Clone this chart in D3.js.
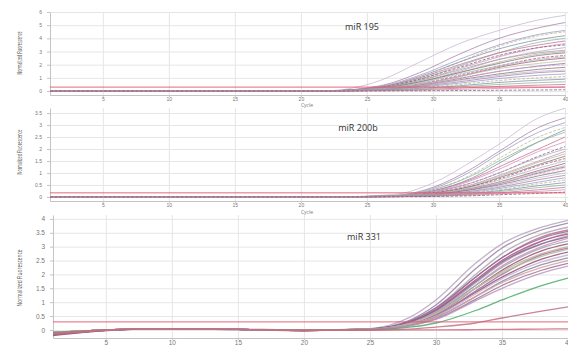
<!DOCTYPE html>
<html>
<head>
<meta charset="utf-8">
<script src="https://cdn.jsdelivr.net/npm/d3@7"></script>
<style>
  body { margin: 0; background: #fff; }
  svg { display: block; font-family: "Open Sans", "DejaVu Sans", sans-serif; }
  .grid line { stroke: #e6e6e6; stroke-width: 1; }
  .axis path, .axis line { stroke: #c4c4c4; }
  .axis text { fill: #777; }
</style>
</head>
<body>
<div id="chart"></div>
<script>
const cycles195 = [1, 12, 22, 26, 29, 32, 35, 38, 40]
const cycles200b = [1, 12, 22, 27, 30, 33, 35, 38, 40]
const cycles331 = [1, 5, 9, 15, 20, 25, 28, 30, 33, 35, 38, 40]

const miR195 = [
  [0, 0, 0.03, 0.8, 2.2, 3.6, 4.6, 5.4, 5.75],
  [0, 0, 0.02, 0.4, 1.4, 2.8, 4.0, 4.8, 5.2],
  [0, 0, 0.02, 0.35, 1.2, 2.4, 3.5, 4.3, 4.6],
  [0, 0, 0.01, 0.3, 1.0, 2.2, 3.4, 4.2, 4.5],
  [0, 0, 0.02, 0.3, 1.1, 2.2, 3.2, 3.9, 4.2],
  [0, 0, 0.01, 0.25, 0.9, 1.9, 2.9, 3.7, 4.0],
  [0, 0, 0.02, 0.3, 1.0, 2.0, 2.9, 3.5, 3.8],
  [0, 0, 0.01, 0.2, 0.8, 1.7, 2.6, 3.3, 3.6],
  [0, 0, 0.02, 0.25, 0.9, 1.8, 2.7, 3.3, 3.5],
  [0, 0, 0.01, 0.2, 0.7, 1.5, 2.4, 3.0, 3.3],
  [0, 0, 0.02, 0.25, 0.8, 1.6, 2.4, 2.9, 3.1],
  [0, 0, 0.01, 0.18, 0.65, 1.4, 2.2, 2.8, 3.0],
  [0, 0, 0.02, 0.2, 0.7, 1.4, 2.1, 2.7, 2.9],
  [0, 0, 0.01, 0.15, 0.55, 1.2, 1.9, 2.5, 2.7],
  [0, 0, 0.02, 0.2, 0.6, 1.3, 1.9, 2.4, 2.6],
  [0, 0, 0.01, 0.15, 0.5, 1.1, 1.8, 2.3, 2.5],
  [0, 0, 0.01, 0.15, 0.5, 1.1, 1.7, 2.1, 2.3],
  [0, 0, 0.01, 0.12, 0.45, 0.95, 1.5, 1.9, 2.1],
  [0, 0, 0.01, 0.15, 0.5, 1.0, 1.5, 1.85, 2.0],
  [0, 0, 0.01, 0.1, 0.4, 0.85, 1.3, 1.65, 1.8],
  [0, 0, 0.01, 0.12, 0.4, 0.8, 1.2, 1.5, 1.6],
  [0, 0, 0.01, 0.1, 0.35, 0.7, 1.1, 1.4, 1.5],
  [0, 0, 0.01, 0.08, 0.3, 0.6, 0.95, 1.2, 1.3],
  [0, 0, 0.01, 0.08, 0.25, 0.5, 0.8, 1.0, 1.1],
  [0, 0, 0.01, 0.06, 0.2, 0.4, 0.65, 0.82, 0.9],
  [0, 0, 0.01, 0.05, 0.15, 0.32, 0.5, 0.64, 0.7],
  [0, 0, 0.01, 0.04, 0.1, 0.22, 0.35, 0.45, 0.5],
  [0, 0, 0, 0.02, 0.06, 0.13, 0.2, 0.27, 0.3],
  [0, 0, 0, 0.01, 0.02, 0.04, 0.06, 0.08, 0.1]
]

const miR200b = [
  [0, 0, 0, 0.1, 0.58, 1.5, 2.2, 3.3, 3.7],
  [0, 0, 0, 0.06, 0.4, 1.2, 1.9, 2.9, 3.3],
  [0, 0, 0, 0.05, 0.35, 1.1, 1.8, 2.7, 3.1],
  [0, 0, 0, 0.05, 0.3, 0.95, 1.6, 2.5, 2.9],
  [0, 0, 0, 0.04, 0.25, 0.8, 1.4, 2.3, 2.8],
  [0, 0, 0, 0.05, 0.3, 0.9, 1.5, 2.3, 2.7],
  [0, 0, 0, 0.04, 0.25, 0.75, 1.25, 2.0, 2.5],
  [0, 0, 0, 0.04, 0.22, 0.7, 1.15, 1.9, 2.3],
  [0, 0, 0, 0.03, 0.2, 0.6, 1.0, 1.7, 2.1],
  [0, 0, 0, 0.04, 0.22, 0.6, 1.0, 1.65, 2.0],
  [0, 0, 0, 0.03, 0.18, 0.52, 0.9, 1.5, 1.9],
  [0, 0, 0, 0.03, 0.17, 0.5, 0.85, 1.45, 1.8],
  [0, 0, 0, 0.03, 0.15, 0.45, 0.8, 1.35, 1.7],
  [0, 0, 0, 0.03, 0.16, 0.45, 0.75, 1.3, 1.6],
  [0, 0, 0, 0.03, 0.14, 0.4, 0.7, 1.2, 1.5],
  [0, 0, 0, 0.02, 0.12, 0.36, 0.62, 1.1, 1.4],
  [0, 0, 0, 0.03, 0.13, 0.35, 0.6, 1.05, 1.3],
  [0, 0, 0, 0.02, 0.1, 0.32, 0.55, 1.0, 1.25],
  [0, 0, 0, 0.02, 0.12, 0.33, 0.55, 0.95, 1.2],
  [0, 0, 0, 0.02, 0.1, 0.3, 0.5, 0.88, 1.1],
  [0, 0, 0, 0.02, 0.09, 0.26, 0.45, 0.8, 1.0],
  [0, 0, 0, 0.02, 0.08, 0.24, 0.4, 0.72, 0.9],
  [0, 0, 0, 0.02, 0.08, 0.2, 0.35, 0.62, 0.8],
  [0, 0, 0, 0.01, 0.06, 0.18, 0.3, 0.55, 0.7],
  [0, 0, 0, 0.01, 0.05, 0.15, 0.26, 0.47, 0.6],
  [0, 0, 0, 0.01, 0.05, 0.13, 0.22, 0.39, 0.5],
  [0, 0, 0, 0.01, 0.04, 0.1, 0.17, 0.3, 0.4],
  [0, 0, 0, 0.01, 0.03, 0.08, 0.13, 0.23, 0.3],
  [0, 0, 0, 0.01, 0.02, 0.05, 0.09, 0.15, 0.2]
]

const miR331 = [
  [-0.1, 0, 0.05, 0.02, -0.01, 0.05, 0.45, 1.08, 2.4, 3.1, 3.7, 3.95],
  [-0.12, 0, 0.05, 0.02, -0.01, 0.04, 0.35, 0.9, 2.2, 2.95, 3.6, 3.85],
  [-0.1, 0, 0.05, 0.02, -0.02, 0.03, 0.3, 0.8, 2.0, 2.75, 3.45, 3.7],
  [-0.15, -0.01, 0.04, 0.02, -0.02, 0.03, 0.28, 0.75, 1.9, 2.6, 3.35, 3.6],
  [-0.1, 0, 0.05, 0.02, -0.01, 0.04, 0.32, 0.8, 1.9, 2.6, 3.3, 3.55],
  [-0.18, -0.02, 0.04, 0.01, -0.02, 0.02, 0.25, 0.65, 1.7, 2.4, 3.2, 3.5],
  [-0.1, 0, 0.05, 0.02, -0.01, 0.03, 0.28, 0.72, 1.8, 2.5, 3.2, 3.45],
  [-0.12, 0, 0.05, 0.02, -0.01, 0.03, 0.25, 0.65, 1.7, 2.4, 3.1, 3.4],
  [-0.08, 0, 0.05, 0.03, 0, 0.03, 0.27, 0.7, 1.75, 2.45, 3.1, 3.35],
  [-0.15, -0.01, 0.04, 0.02, -0.02, 0.02, 0.22, 0.6, 1.6, 2.3, 3.0, 3.3],
  [-0.1, 0, 0.05, 0.02, -0.01, 0.03, 0.24, 0.62, 1.6, 2.25, 2.95, 3.2],
  [-0.2, -0.02, 0.04, 0.01, -0.02, 0.02, 0.2, 0.55, 1.5, 2.15, 2.85, 3.1],
  [-0.1, 0, 0.05, 0.02, -0.01, 0.03, 0.22, 0.58, 1.5, 2.1, 2.75, 3.0],
  [-0.12, 0, 0.05, 0.02, -0.01, 0.02, 0.2, 0.52, 1.4, 2.0, 2.7, 2.95],
  [-0.1, 0, 0.05, 0.02, -0.01, 0.03, 0.23, 0.6, 1.5, 2.05, 2.65, 2.9],
  [-0.15, -0.01, 0.04, 0.02, -0.02, 0.02, 0.18, 0.5, 1.35, 1.9, 2.55, 2.8],
  [-0.1, 0, 0.05, 0.02, -0.01, 0.02, 0.2, 0.5, 1.3, 1.85, 2.45, 2.7],
  [-0.12, 0, 0.05, 0.02, -0.01, 0.02, 0.17, 0.45, 1.2, 1.75, 2.35, 2.6],
  [-0.1, 0, 0.05, 0.02, -0.01, 0.02, 0.18, 0.45, 1.2, 1.7, 2.25, 2.5],
  [-0.15, -0.01, 0.04, 0.02, -0.02, 0.02, 0.15, 0.4, 1.1, 1.6, 2.15, 2.4],
  [-0.1, 0, 0.05, 0.02, -0.01, 0.02, 0.15, 0.38, 1.05, 1.5, 2.05, 2.3],
  [-0.1, 0, 0.05, 0.02, -0.01, 0.01, 0.1, 0.25, 0.7, 1.08, 1.6, 1.87],
  [-0.12, 0, 0.05, 0.02, -0.01, 0, 0.03, 0.1, 0.25, 0.43, 0.68, 0.83],
  [-0.15, -0.01, 0.04, 0.02, -0.02, -0.01, 0, 0, 0.01, 0.02, 0.03, 0.04]
]

const xTicks = [5, 10, 15, 20, 25, 30, 35, 40]
const yTicks195 = [0, 1, 2, 3, 4, 5, 6]
const yTicks200b = [0, 0.5, 1, 1.5, 2, 2.5, 3, 3.5]
const yTicks331 = [0, 0.5, 1, 1.5, 2, 2.5, 3, 3.5, 4]
const thresholds = [0.3, 0.17, 0.29]

const palette = ['#c9b6cf', '#a77fa6', '#9a9ac8', '#b9b48a', '#7d8fa8', '#8fb59a',
  '#c96d95', '#d58fb0', '#7b5b7e', '#b5a1c9', '#a3a3a3', '#d6a6a6', '#6f7f6a',
  '#c2407a', '#9cc0c8', '#a5566b', '#bfbfa0', '#8a6fb0', '#e0a3c0', '#777777']
const palette331 = ['#b7a4bd', '#9a7fa8', '#a8a8a8', '#c46a8e', '#8e6a9e', '#a0b0c8',
  '#b84d79', '#c8a0b8', '#7a6a90', '#d090b0', '#9f9fb8', '#8e4f6f', '#c0b090',
  '#a86aa8', '#b0c0a0', '#905070', '#c8b0d0', '#8a8aa0', '#d4a0a8', '#a07090',
  '#b898c0', '#4caa6a', '#c07080', '#d06a80']

const W = 568, H = 351

const panels = [
  { name: 'miR 195', cycles: cycles195, curves: miR195, colors: palette, yTicks: yTicks195,
    yDomain: [-0.3, 6], yRange: [95, 12], xRange: [50, 565], tickFont: 5, lw: 0.9,
    label: [362, 30], titleY: 53, titleLen: 43, cycleY: 107, thr: thresholds[0] },
  { name: 'miR 200b', cycles: cycles200b, curves: miR200b, colors: palette, yTicks: yTicks200b,
    yDomain: [-0.17, 3.71], yRange: [201, 108], xRange: [50, 565], tickFont: 5, lw: 0.9,
    label: [358, 131], titleY: 152, titleLen: 45, cycleY: 214, thr: thresholds[1] },
  { name: 'miR 331', cycles: cycles331, curves: miR331, colors: palette331, yTicks: yTicks331,
    yDomain: [-0.29, 4.14], yRange: [338, 215], xRange: [53, 568], tickFont: 6.5, lw: 1.3,
    label: [364, 240], titleY: 278, titleLen: 57, cycleY: 357, thr: thresholds[2] }
]

const svg = d3.select('#chart').append('svg')
  .attr('width', W)
  .attr('height', H)

panels.forEach(p => {
  const x = d3.scaleLinear().domain([1, 40]).range(p.xRange)
  const y = d3.scaleLinear().domain(p.yDomain).range(p.yRange)
  const g = svg.append('g')

  // gridlines
  g.append('g')
    .attr('class', 'grid')
    .attr('transform', 'translate(' + p.xRange[0] + ',0)')
    .call(d3.axisLeft(y).tickValues(p.yTicks).tickSize(-(p.xRange[1] - p.xRange[0] + 3)).tickFormat(''))
    .call(s => s.select('.domain').remove())

  g.append('g')
    .attr('class', 'grid')
    .attr('transform', 'translate(0,' + p.yRange[0] + ')')
    .call(d3.axisBottom(x).tickValues(xTicks).tickSize(-(p.yRange[0] - p.yRange[1])).tickFormat(''))
    .call(s => s.select('.domain').remove())

  // axes
  g.append('g')
    .attr('class', 'x axis')
    .attr('transform', 'translate(0,' + p.yRange[0] + ')')
    .call(d3.axisBottom(x).tickValues(xTicks).tickSize(2).tickPadding(0).tickSizeOuter(0).tickFormat(d => d))
    .call(s => s.selectAll('text').style('font-size', p.tickFont + 'px'))

  g.append('g')
    .attr('class', 'y axis')
    .attr('transform', 'translate(' + p.xRange[0] + ',0)')
    .call(d3.axisLeft(y).tickValues(p.yTicks).tickSize(3).tickPadding(5).tickSizeOuter(0).tickFormat(d => d))
    .call(s => s.selectAll('text').style('font-size', p.tickFont + 'px'))

  // curves
  const line = d3.line()
    .x((d, i) => x(p.cycles[i]))
    .y(d => y(d))
    .curve(d3.curveMonotoneX)

  g.append('g')
    .selectAll('path')
    .data(p.curves)
    .join('path')
    .attr('d', line)
    .attr('fill', 'none')
    .attr('stroke', (d, i) => p.colors[i % p.colors.length])
    .attr('stroke-width', p.lw)
    .attr('stroke-opacity', 0.85)
    .attr('stroke-dasharray', (d, i) => (p.lw < 1 && i % 5 === 3) ? '3,1.5' : null)

  // threshold
  g.append('line')
    .attr('x1', x(1)).attr('x2', x(40))
    .attr('y1', y(p.thr)).attr('y2', y(p.thr))
    .attr('stroke', '#e0566a')
    .attr('stroke-width', 0.9)

  // labels
  g.append('text')
    .attr('x', p.label[0]).attr('y', p.label[1])
    .attr('text-anchor', 'middle')
    .style('font-size', '9px')
    .style('fill', '#333')
    .text(p.name)

  g.append('text')
    .attr('transform', 'translate(22,' + p.titleY + ') rotate(-90)')
    .attr('text-anchor', 'middle')
    .attr('textLength', p.titleLen)
    .attr('lengthAdjust', 'spacingAndGlyphs')
    .style('font-size', '8px')
    .style('fill', '#555')
    .text('Normalized Fluorescence')

  g.append('text')
    .attr('x', 307).attr('y', p.cycleY)
    .attr('text-anchor', 'middle')
    .style('font-size', p.tickFont + 'px')
    .style('fill', '#777')
    .text('Cycle')
})
</script>
</body>
</html>
